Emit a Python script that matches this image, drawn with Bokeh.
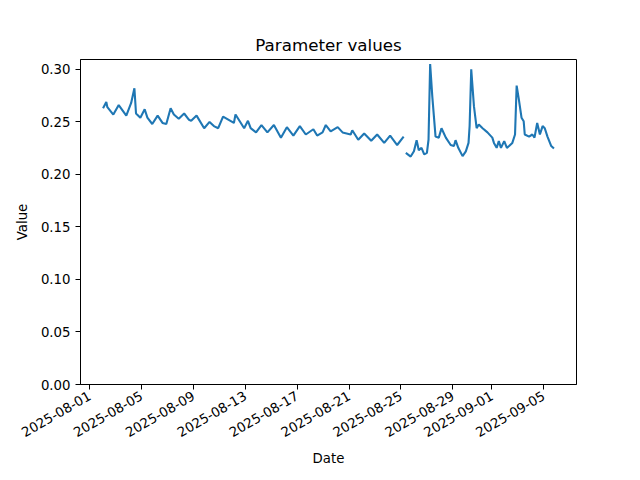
import math
import pandas as pd
from bokeh.plotting import figure
from bokeh.models import ColumnDataSource, FixedTicker, DatetimeTickFormatter, PrintfTickFormatter, Range1d
from bokeh.embed import file_html
from bokeh.resources import INLINE

seg1_times = [
    "2025-08-02 01:00", "2025-08-02 07:00", "2025-08-02 09:00", "2025-08-02 20:00",
    "2025-08-03 06:00", "2025-08-03 20:00", "2025-08-04 05:00", "2025-08-04 11:00",
    "2025-08-04 14:00", "2025-08-04 22:00", "2025-08-05 06:00", "2025-08-05 11:00",
    "2025-08-05 20:00", "2025-08-06 06:00", "2025-08-06 15:00", "2025-08-06 22:00",
    "2025-08-07 06:00", "2025-08-07 12:00", "2025-08-07 21:00", "2025-08-08 07:00",
    "2025-08-08 16:00", "2025-08-08 20:00", "2025-08-09 06:00", "2025-08-09 20:00",
    "2025-08-10 06:00", "2025-08-10 14:00", "2025-08-10 22:00", "2025-08-11 07:00",
    "2025-08-12 03:00", "2025-08-12 06:00", "2025-08-12 22:00", "2025-08-13 05:00",
    "2025-08-13 10:00", "2025-08-13 20:00", "2025-08-14 06:00", "2025-08-14 17:00",
    "2025-08-15 05:00", "2025-08-15 18:00", "2025-08-16 05:00", "2025-08-16 17:00",
    "2025-08-17 05:00", "2025-08-17 16:00", "2025-08-18 06:00", "2025-08-18 13:00",
    "2025-08-18 23:00", "2025-08-19 05:00", "2025-08-19 14:00", "2025-08-20 03:00",
    "2025-08-20 12:00", "2025-08-21 03:00", "2025-08-21 06:00", "2025-08-21 17:00",
    "2025-08-22 04:00", "2025-08-22 17:00", "2025-08-23 04:00", "2025-08-23 17:00",
    "2025-08-24 04:00", "2025-08-24 17:00", "2025-08-25 05:00",
]
seg1_values = [
    0.263, 0.269, 0.264, 0.257,
    0.266, 0.256, 0.268, 0.282,
    0.258, 0.254, 0.262, 0.254,
    0.248, 0.256, 0.249, 0.248,
    0.263, 0.257, 0.253, 0.258,
    0.252, 0.251, 0.256, 0.244,
    0.250, 0.246, 0.244, 0.255,
    0.249, 0.257, 0.244, 0.251,
    0.244, 0.240, 0.247, 0.240,
    0.247, 0.235, 0.245, 0.237,
    0.246, 0.238, 0.243, 0.237,
    0.240, 0.247, 0.241, 0.245,
    0.240, 0.238, 0.242, 0.233,
    0.239, 0.232, 0.238, 0.230,
    0.237, 0.228, 0.236,
]

seg2_times = [
    "2025-08-25 09:00", "2025-08-25 18:00", "2025-08-26 00:00", "2025-08-26 05:00",
    "2025-08-26 09:00", "2025-08-26 14:00", "2025-08-26 19:00", "2025-08-27 00:00",
    "2025-08-27 03:00", "2025-08-27 06:00", "2025-08-27 10:00", "2025-08-27 16:00",
    "2025-08-27 22:00", "2025-08-28 03:00", "2025-08-28 11:00", "2025-08-28 20:00",
    "2025-08-29 02:00", "2025-08-29 05:00", "2025-08-29 10:00", "2025-08-29 18:00",
    "2025-08-30 00:00", "2025-08-30 05:00", "2025-08-30 07:00", "2025-08-30 10:00",
    "2025-08-30 15:00", "2025-08-30 20:00", "2025-08-31 00:00", "2025-08-31 07:00",
    "2025-08-31 16:00", "2025-09-01 01:00", "2025-09-01 04:00", "2025-09-01 09:00",
    "2025-09-01 13:00", "2025-09-01 17:00", "2025-09-01 23:00", "2025-09-02 04:00",
    "2025-09-02 08:00", "2025-09-02 14:00", "2025-09-02 19:00", "2025-09-02 22:00",
    "2025-09-03 02:00", "2025-09-03 07:00", "2025-09-03 11:00", "2025-09-03 13:00",
    "2025-09-03 21:00", "2025-09-04 03:00", "2025-09-04 07:00", "2025-09-04 12:00",
    "2025-09-04 17:00", "2025-09-04 22:00", "2025-09-05 02:00", "2025-09-05 07:00",
    "2025-09-05 14:00", "2025-09-05 19:00",
]
seg2_values = [
    0.2205, 0.217, 0.222, 0.2326,
    0.223, 0.2253, 0.219, 0.2205,
    0.233, 0.305, 0.274, 0.236,
    0.235, 0.244, 0.235, 0.228,
    0.227, 0.2326, 0.2253, 0.2174,
    0.222, 0.230, 0.246, 0.300,
    0.265, 0.244, 0.2475, 0.244,
    0.240, 0.235, 0.230, 0.2253,
    0.2317, 0.2253, 0.2317, 0.2253,
    0.227, 0.230, 0.238, 0.2845,
    0.2716, 0.254, 0.2506, 0.238,
    0.236, 0.238, 0.235, 0.249,
    0.238, 0.246, 0.244, 0.236,
    0.227, 0.2246,
]

x_tick_labels = ["2025-08-01", "2025-08-05", "2025-08-09", "2025-08-13", "2025-08-17",
                 "2025-08-21", "2025-08-25", "2025-08-29", "2025-09-01", "2025-09-05"]
y_ticks = [0.0, 0.05, 0.10, 0.15, 0.20, 0.25, 0.30]

# ---- build ----
t1 = pd.to_datetime(seg1_times)
t2 = pd.to_datetime(seg2_times)
src1 = ColumnDataSource(dict(t=t1, v=seg1_values))
src2 = ColumnDataSource(dict(t=t2, v=seg2_values))

tmin, tmax = t1.min(), t2.max()
span = tmax - tmin
x_start = tmin - span * 0.05
x_end = tmax + span * 0.05
vals = seg1_values + seg2_values
vmin, vmax = min(vals), max(vals)
y_end = vmax + (vmax - vmin) * 0.05

FONT = "DejaVu Sans"

p = figure(x_axis_type="datetime", frame_width=496, frame_height=325,
           output_backend="svg", toolbar_location=None,
           title="Parameter values",
           x_range=Range1d(x_start, x_end), y_range=Range1d(0, y_end),
           min_border_left=80, min_border_right=56, min_border_top=59,
           min_border_bottom=88)

p.line("t", "v", source=src1, line_color="#1f77b4", line_width=2.1)
p.line("t", "v", source=src2, line_color="#1f77b4", line_width=2.1)

tick_ms = [pd.Timestamp(s).timestamp() * 1000 for s in x_tick_labels]
p.xaxis.ticker = FixedTicker(ticks=tick_ms)
p.xaxis.formatter = DatetimeTickFormatter(days="%Y-%m-%d", months="%Y-%m-%d",
                                          hours="%Y-%m-%d", years="%Y-%m-%d")
p.yaxis.ticker = FixedTicker(ticks=y_ticks)
p.yaxis.formatter = PrintfTickFormatter(format="%.2f")
p.xaxis.major_label_orientation = math.pi / 6

p.xaxis.axis_label = "Date"
p.yaxis.axis_label = "Value"

for ax in p.axis:
    ax.major_tick_out = 5
    ax.major_tick_in = 0
    ax.minor_tick_out = 0
    ax.minor_tick_in = 0
    ax.major_label_text_font = FONT
    ax.major_label_text_font_size = "13.3px"
    ax.major_label_text_color = "black"
    ax.axis_label_text_font = FONT
    ax.axis_label_text_font_size = "13.3px"
    ax.axis_label_text_font_style = "normal"
    ax.axis_label_text_color = "black"
    ax.axis_line_color = "black"
    ax.major_tick_line_color = "black"
    ax.major_label_standoff = 5
    ax.axis_label_standoff = 6

p.yaxis.axis_label_standoff = 8

p.grid.visible = False
p.outline_line_color = "black"
p.outline_line_width = 1
p.background_fill_color = "white"
p.border_fill_color = "white"

p.title.text_font = FONT
p.title.text_font_size = "16.7px"
p.title.text_font_style = "normal"
p.title.text_color = "black"
p.title.align = "center"

open("out.html", "w").write(file_html(p, INLINE))
